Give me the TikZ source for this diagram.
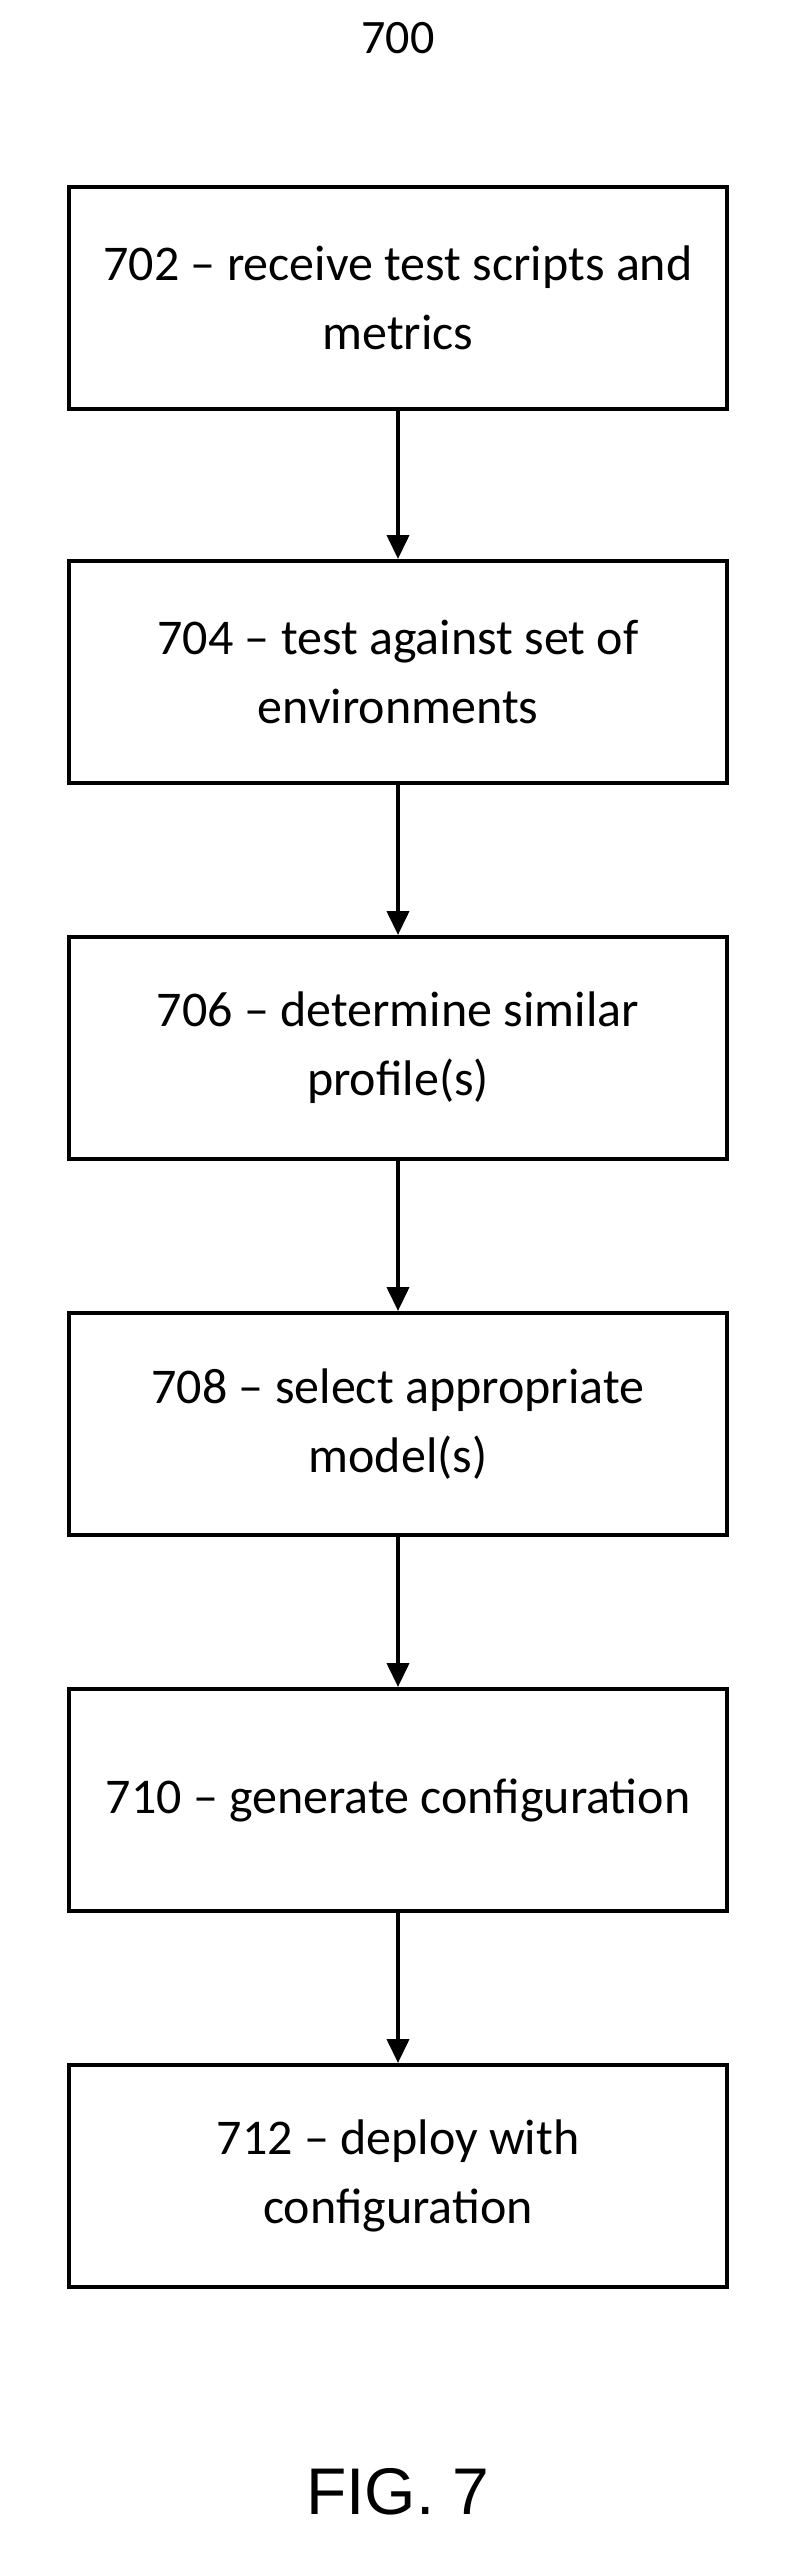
\documentclass[tikz,border=0pt]{standalone}
\usepackage{fontspec}
\setmainfont{Carlito}
\newfontfamily\arialf{Liberation Sans}
\usetikzlibrary{arrows.meta}
\begin{document}
\begin{tikzpicture}[x=1pt,y=-1pt,
  box/.style={draw,line width=4pt,minimum width=658pt,minimum height=222pt,inner xsep=2pt,align=center,font=\fontsize{50}{69}\selectfont},
  arr/.style={line width=4pt,-{Triangle[length=24pt,width=22pt]}}]
\useasboundingbox (0,0) rectangle (796,2560);
\node[font=\fontsize{48}{56}\selectfont] (t) at (398,38) {700};
\node[box] (a) at (398,298) {702 -- receive test scripts and\\metrics};
\node[box] (b) at (398,672) {704 -- test against set of\\environments};
\node[box] (c) at (398,1048) {706 -- determine similar\\profile(s)};
\node[box] (d) at (398,1424) {708 -- select appropriate\\model(s)};
\node[box] (e) at (398,1800) {710 -- generate configuration};
\node[box] (f) at (398,2176) {712 -- deploy with\\configuration};
\node[font=\arialf\fontsize{66}{70}\selectfont] (g) at (398,2492) {FIG. 7};
\draw[arr] (a) -- (b);
\draw[arr] (b) -- (c);
\draw[arr] (c) -- (d);
\draw[arr] (d) -- (e);
\draw[arr] (e) -- (f);
\end{tikzpicture}
\end{document}
